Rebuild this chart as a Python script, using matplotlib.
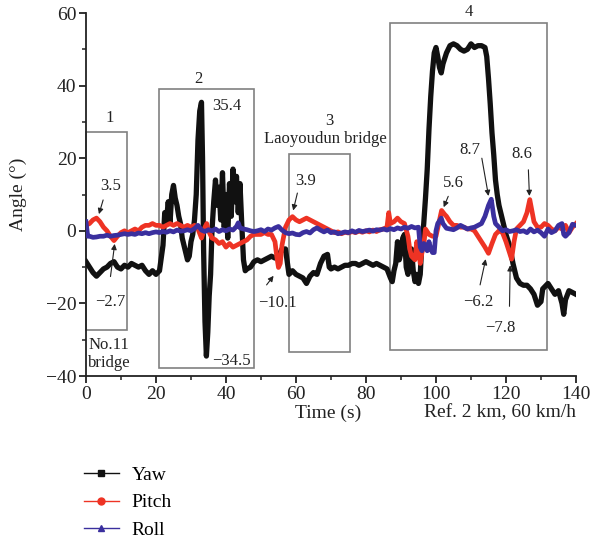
import matplotlib
matplotlib.use("Agg")
import matplotlib.pyplot as plt
from matplotlib.lines import Line2D
from matplotlib.patches import Rectangle

plt.rcParams['font.family'] = ['Liberation Serif', 'DejaVu Serif']

# ---------------- data ----------------
yaw_t = [0, 1, 2, 3, 4, 5, 6, 7, 8, 9, 10, 11, 12, 13, 14, 15, 16, 17, 18, 19, 20, 21,
         22, 22.5, 23, 23.5, 24, 24.5, 25, 25.5, 26, 26.5, 27, 27.5, 28, 28.5, 29, 29.5,
         30, 30.5, 31, 31.5, 32, 32.5, 33, 33.3, 33.6, 34, 34.4, 34.8, 35.2, 35.6, 36,
         36.5, 37, 37.5, 38, 38.5, 39, 39.5, 40, 40.5, 41, 41.5, 42, 42.5, 43, 43.5, 44,
         44.5, 45, 45.5, 46, 47, 48, 49, 50, 51, 52, 53, 54, 55, 56, 57, 57.7, 58, 59,
         60, 61, 62, 63, 64, 65, 66, 67, 68, 69, 69.5, 70, 71, 72, 73, 74, 75, 76, 77,
         78, 79, 80, 81, 82, 83, 84, 85, 86, 87, 87.5, 88, 88.5, 89, 89.5, 90, 90.5, 91,
         91.5, 92, 92.5, 93, 93.5, 94, 94.5, 95, 95.5, 96, 96.5, 97, 97.5, 98, 98.5, 99,
         99.5, 100, 100.5, 101, 101.5, 102, 103, 104, 105, 106, 107, 108, 109, 110, 111,
         112, 113, 114, 114.5, 115, 115.5, 116, 116.5, 117, 117.5, 118, 119, 120, 121,
         122, 123, 124, 125, 126, 127, 128, 129, 130, 130.5, 131, 132, 133, 134, 135,
         136, 136.5, 137, 138, 139, 140]
yaw_v = [-8.5, -10, -11.5, -12.5, -11.5, -10.5, -10, -9, -8.5, -10, -10.5, -9.5, -10, -9,
         -9.5, -10, -9.5, -11, -12, -11, -12, -11,
         -4, 5, 3, 8, 2, 10, 12.5, 9, 7, 4, 2, -2, -4, -6, -8, -7,
         -3, -1, 3, 10, 25, 33, 35.4, 20, -5, -25, -34.5, -28, -18, -12, 0,
         8, 14, 7, 12, 3, 16, 1, 10, -2, 13, 4, 17, 8, 15, 5, 13,
         2, -8, -11, -10.5, -10, -8.5, -8, -8.5, -8, -7.5, -7, -7.5, -7, -5, -5, -10, -12, -11,
         -12, -12.5, -13, -14.5, -12.5, -11.5, -12, -9, -7, -6.5, -10, -10.5, -10, -10.5, -10,
         -9.5, -9.5, -9, -9,
         -9.5, -9, -8.5, -9, -9.5, -9, -9.5, -10, -10.5, -13, -14, -11, -9, -3, -8, -6, -2, -1,
         -10, -12, -7, -5, -11, -14, -12, -14.5, -12, -3, 2, 9, 17, 28, 37, 44,
         49, 50.5, 48, 45, 43.5, 46, 49, 51, 51.5, 51, 50, 49.5, 50, 51.5, 50.5,
         51, 51, 50.5, 48, 42, 35, 27, 21, 14, 10, 7, 3, -1, -4,
         -9, -13, -14.5, -15, -15, -16, -17.5, -20.5, -19.5, -16, -15.5, -14.5, -16, -17.5, -16.5,
         -20, -23, -19, -16.5, -17, -17.5]

pitch_t = [0, 1, 2, 3, 4, 5, 6, 7, 8, 9, 10, 11, 12, 13, 14, 15, 16, 17, 18, 19, 20,
           21, 22, 23, 24, 25, 26, 27, 28, 29, 30, 31, 32, 33, 34, 34.5, 35, 36, 37, 38,
           39, 40, 41, 42, 43, 44, 45, 46, 47, 48, 49, 50, 51, 52, 53, 54, 54.5, 55, 55.5,
           56, 57, 58, 59, 60, 61, 62, 63, 64, 65, 66, 67, 68, 69, 70, 71, 72, 73, 74, 75,
           76, 77, 78, 79, 80, 81, 82, 83, 84, 85, 86, 86.5, 87, 88, 89, 90, 91, 92, 92.5,
           93, 94, 94.5, 95, 95.5, 96, 96.5, 97, 98, 99, 100, 101, 101.6, 102.5, 103, 104,
           105, 106, 107, 108, 109, 110, 111, 112, 113, 114, 115, 116, 117, 118, 119, 120,
           121, 121.6, 122.3, 123, 124, 125, 126, 126.8, 127.5, 128, 129, 130, 131, 132,
           133, 134, 135, 136, 137, 138, 139, 140]
pitch_v = [1.5, 2, 3, 3.5, 2.5, 1, 0, -1.5, -2.7, -1.5, -0.5, 0, -0.5, 0, 0.5, 0, 1, 1.5,
           1.5, 2, 1.5, 1.5, 1, 1.5, 2, 1.5, 2, 1.5, 1, 1.5, 1, 1.5, 0.5, -2, 1, 2, 0, -2,
           -2.5, -3.5, -3, -4.5, -3.5, -4.5, -4, -3.5, -3, -2.5, -1.5, -1, -1, -1, -0.5, -1,
           -1, -3, -7, -10.1, -9, -4, 1, 3, 3.9, 3, 2.5, 3, 3.5, 3, 2.5, 2, 1.5, 1, 0.5, 0,
           -0.5, -0.3, -0.8, -0.4, -0.6, -0.2, -0.5, -0.1, -0.4, 0, -0.3, 0.2, -0.2, 0.3, 0.5,
           1, 5, 2, 2.5, 3.5, 2.5, 2, -1.5, -5, -7, -8, -3, -5, -9, -6, -4, 0.5, -1, -1.5,
           -1.5, 3, 5.6, 4.5, 4, 2.5, 1.5, 1.5, 1, 1, 0.5, 0.5, 0, -1.5, -3, -4.5, -6.2, -3.5,
           -1, 0, -0.5, -3, -6, -7.8, -3, 0.5, 1.5, 2.5, 5, 8.6, 5, 2.5, 1, 1, 2, 1.5, 0.5, 0,
           1, 0.5, 1.5, -0.5, 1, 2]

roll_t = [0, 0.5, 1, 2, 3, 4, 5, 6, 7, 8, 9, 10, 11, 12, 13, 14, 15, 16, 17, 18, 19, 20,
          21, 22, 23, 24, 25, 26, 27, 28, 29, 30, 31, 32, 33, 34, 35, 36, 37, 38, 39, 40,
          41, 42, 43, 43.5, 44, 45, 46, 47, 48, 49, 50, 51, 52, 53, 54, 55, 56, 57, 58, 59,
          60, 61, 62, 63, 64, 65, 66, 67, 68, 69, 70, 71, 72, 73, 74, 75, 76, 77, 78, 79,
          80, 81, 82, 83, 84, 85, 86, 87, 88, 89, 90, 91, 92, 93, 94, 95, 95.5, 96, 96.5,
          97, 97.5, 98, 98.5, 99, 99.5, 100, 100.5, 101.5, 102, 103, 104, 105, 106, 107, 108,
          109, 110, 111, 112, 113, 114, 115, 115.8, 116.5, 117, 118, 119, 120, 121, 122, 123,
          124, 125, 126, 127, 128, 129, 130, 131, 132, 133, 134, 135, 136, 136.5, 137, 138,
          139, 140]
roll_v = [2.5, -1.5, -1.5, -1.8, -1.7, -1.5, -1.5, -1.2, -1.5, -1.3, -1.2, -1, -0.8, -1,
          -0.8, -1, -0.6, -0.8, -0.5, -0.8, -0.5, -0.3, -0.5, -0.2, -0.4, 0, -0.3, 0.2, -0.1,
          0, 0.3, 0, 0.6, 1.5, 0.2, -0.2, 0.3, 0, 0.5, -0.2, 0.3, 0, 0.5, 0.2, 1.2, 2.2, 0.8,
          0.5, 0.3, 0, -0.2, 0, 0.3, -0.2, 0.5, 0.2, 0.8, 1.2, 0.2, -0.5, -0.8, -0.6, -1, -1.1,
          -0.5, -0.2, -0.6, 0.3, 0.8, 0.2, -0.3, 0.2, -0.5, -0.3, -0.8, -0.6, -0.3, -0.5, 0,
          -0.4, 0.1, -0.2, 0, 0.2, -0.1, 0.3, 0.2, 0.5, 0.2, 0.6, 0.3, 0.8, 0.5, 1, 0.7, 1.2,
          0.8, 1, -4.5, -5.5, -3.5, -4, -5.5, -3, -5, -6, -6, 0, 2, 3.5, 2, 0.7, 0.5, 0.3, 0.8,
          1.5, 1, 0.5, 0.8, 1, 1.5, 2, 4, 7, 8.7, 4, 2, 1, 0, 0.3, -0.2, 0, 0.3, -0.2, 0, -0.5,
          0.5, -0.3, 0.2, -0.5, -1.5, 0.5, -0.5, 0, 1.5, 2, -1, -1.5, -0.5, 1.8, 1.5]

series_names = ["Yaw", "Pitch", "Roll"]
series_colors = ["#111111", "#ee3324", "#3a2f9e"]
series_markers = ["s", "o", "^"]

x_ticks = [0, 20, 40, 60, 80, 100, 120, 140]
y_ticks = [-40, -20, 0, 20, 40, 60]

# ---------------- figure ----------------
fig = plt.figure(figsize=(5.93, 5.44), dpi=100)
ax = fig.add_axes([0.1450, 0.3088, 0.8263, 0.6673])

ax.plot(yaw_t, yaw_v, color=series_colors[0], lw=3.8, solid_joinstyle='round', zorder=3)
ax.plot(pitch_t, pitch_v, color=series_colors[1], lw=3.4, solid_joinstyle='round', zorder=4)
ax.plot(roll_t, roll_v, color=series_colors[2], lw=3.4, solid_joinstyle='round', zorder=5)

ax.set_xlim(0, 140)
ax.set_ylim(-40, 60)
ax.set_xticks(x_ticks)
ax.set_yticks(y_ticks)
ax.set_yticklabels([str(v).replace('-', '\u2212') for v in y_ticks])
ax.set_xticks(range(10, 140, 20), minor=True)
ax.set_yticks(range(-30, 60, 20), minor=True)
for s in ['top', 'right']:
    ax.spines[s].set_visible(False)
for s in ['left', 'bottom']:
    ax.spines[s].set_linewidth(1.3)
    ax.spines[s].set_color('#222222')
ax.tick_params(which='major', direction='out', length=5, width=1.3, labelsize=14,
               colors='#222222', pad=2)
ax.tick_params(which='minor', direction='out', length=3, width=1.1, colors='#222222')

ax.set_ylabel("Angle (°)", fontsize=14, color='#222222')
ax.yaxis.set_label_coords(-0.12, 0.5)
ax.text(0.495, -0.102, "Time (s)", transform=ax.transAxes, fontsize=14,
        ha='center', va='center', color='#222222')
ax.text(0.845, -0.102, "Ref. 2 km, 60 km/h", transform=ax.transAxes, fontsize=14,
        ha='center', va='center', color='#222222')

# region boxes
box_color = '#808080'
boxes = [(0, -27.3, 11.7, 27.3), (20.9, -37.8, 48.0, 39.0),
         (58.0, -33.4, 75.3, 21.1), (86.9, -32.9, 131.7, 57.2)]
for (x0, y0, x1, y1) in boxes:
    ax.add_patch(Rectangle((x0, y0), x1 - x0, y1 - y0, fill=False, edgecolor=box_color,
                           lw=1.2, zorder=2, clip_on=False))

lab_kw = dict(fontsize=12, ha='center', va='center', color='#222222')
ax.text(6.7, 31.0, "1", **lab_kw)
ax.text(32.2, 41.8, "2", **lab_kw)
ax.text(69.5, 30.2, "3", **lab_kw)
ax.text(68.4, 25.2, "Laoyoudun bridge", **lab_kw)
ax.text(109.5, 60.3, "4", clip_on=False, **lab_kw)
ax.text(6.6, -31.4, "No.11", **lab_kw)
ax.text(6.6, -36.4, "bridge", **lab_kw)

# value annotations
num_kw = dict(fontsize=12, ha='center', va='center', color='#222222', zorder=6)
arrow_kw = dict(arrowstyle='-|>', color='#222222', lw=0.8, mutation_scale=8,
                shrinkA=0, shrinkB=0)
annots = [
    ("3.5", (7.0, 12.4), (4.9, 8.5), (3.7, 4.6)),
    ("\u22122.7", (6.8, -19.5), (7.0, -12.6), (8.2, -3.6)),
    ("35.4", (40.2, 34.4), None, None),
    ("\u221234.5", (41.6, -36.0), None, None),
    ("\u221210.1", (54.8, -19.9), (51.6, -14.9), (53.6, -12.4)),
    ("3.9", (62.6, 13.6), (60.4, 10.4), (59.2, 5.6)),
    ("5.6", (105.0, 13.1), (103.5, 9.5), (102.2, 6.5)),
    ("8.7", (109.7, 22.3), (113.1, 20.0), (115.0, 9.6)),
    ("8.6", (124.5, 21.2), (126.4, 16.8), (126.7, 9.6)),
    ("\u22126.2", (112.1, -19.5), (112.6, -14.9), (114.2, -7.8)),
    ("\u22127.8", (118.5, -26.8), (121.0, -20.8), (121.2, -9.5)),
]
for txt, tpos, tail, head in annots:
    ax.text(tpos[0], tpos[1], txt, **num_kw)
    if tail is not None:
        ax.annotate('', xy=head, xytext=tail, arrowprops=arrow_kw, zorder=6)

# legend
handles = [Line2D([], [], color=c, lw=1.0, marker=m, markersize=5,
                  markerfacecolor=c, markeredgecolor=c)
           for c, m in zip(series_colors, series_markers)]
fig.legend(handles, series_names, loc='upper left', bbox_to_anchor=(0.128, 0.157),
           frameon=False, fontsize=14, handlelength=1.8, handletextpad=0.65,
           labelspacing=0.5, borderaxespad=0)

fig.savefig("out.png", dpi=100)
